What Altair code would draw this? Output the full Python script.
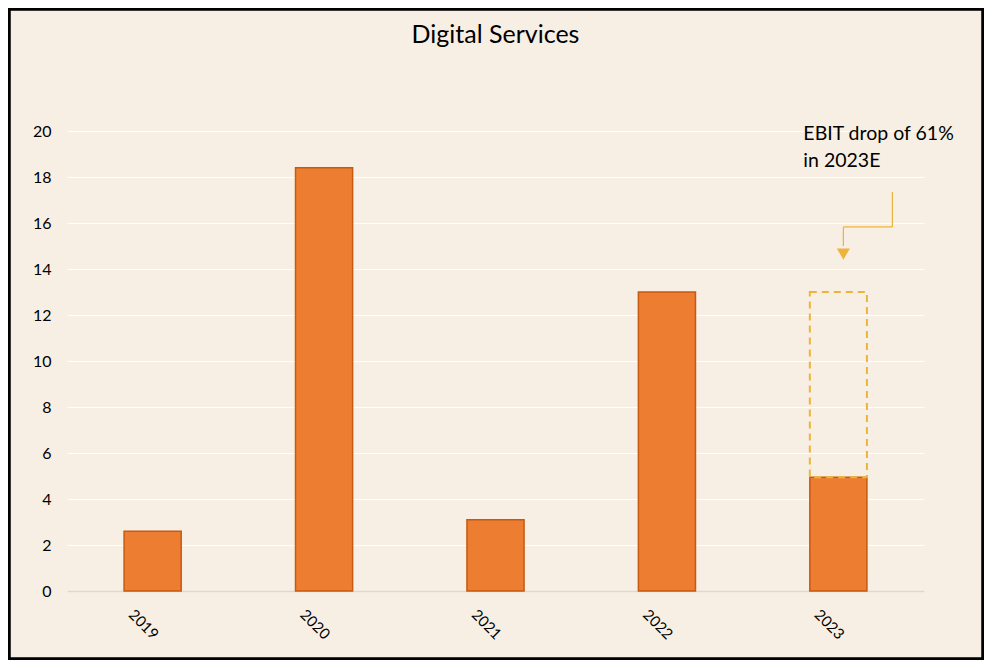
import altair as alt
import pandas as pd

title_text = "Digital Services"
years = ["2019", "2020", "2021", "2022", "2023"]
ebit = [2.6, 18.4, 3.1, 13.0, 4.95]
prior_level_2023 = [13.0]
annotation_text = ["EBIT drop of 61%", "in 2023E"]

BG = "#F7EFE3"
ORANGE = "#ED7D31"
ORANGE_EDGE = "#C55A11"
GOLD = "#EDB33A"
FONT = "Lato"

W, H = 857, 460
PAD = {"left": 59, "top": 123, "right": 60, "bottom": 69}

bars_df = pd.DataFrame({"year": years, "ebit": ebit})
dash_df = pd.DataFrame({"year": [years[-1]], "low": [ebit[-1]], "high": prior_level_2023})
text_df = pd.DataFrame({"year": [years[-1]], "y": [20.25], "label": ["\n".join(annotation_text)]})
title_df = pd.DataFrame({"t": [title_text]})
seg_v1 = pd.DataFrame({"year": [years[-1]], "y": [17.35], "y2": [15.83]})
seg_h = pd.DataFrame({"year": [years[-1]], "y": [15.83]})
seg_v2 = pd.DataFrame({"year": [years[-1]], "y": [15.83], "y2": [15.0]})
tip = pd.DataFrame({"year": [years[-1]], "y": [14.65]})

xscale = alt.Scale(domain=years, paddingInner=0.667, paddingOuter=0.333)
yscale = alt.Scale(domain=[0, 20])

x_enc = alt.X("year:N", scale=xscale, title=None,
              axis=alt.Axis(labelAngle=45, labelAlign="center", labelBaseline="middle",
                            labelPadding=33, labelOffset=-9, ticks=False,
                            domainColor="#D9D9D9", domainWidth=1.5,
                            labelFont=FONT, labelFontSize=15, labelColor="#000000"))
y_enc = alt.Y("ebit:Q", scale=yscale, title=None,
              axis=alt.Axis(values=list(range(0, 21, 2)), ticks=False, domain=False,
                            gridColor="#FFFFFF", gridWidth=1, labelPadding=16,
                            labelFont=FONT, labelFontSize=16, labelColor="#000000"))

bars = alt.Chart(bars_df).mark_bar(color=ORANGE, stroke=ORANGE_EDGE, strokeWidth=1.5).encode(
    x=x_enc, y=y_enc)

dash = alt.Chart(dash_df).mark_bar(fill=None, stroke=GOLD, strokeWidth=2, strokeDash=[7, 5]).encode(
    x=alt.X("year:N", scale=xscale),
    y=alt.Y("low:Q", scale=yscale),
    y2="high:Q")

txt = alt.Chart(text_df).mark_text(align="left", baseline="top", font=FONT, fontSize=19.5,
                                   lineBreak="\n", lineHeight=27, dx=-35, color="#000000").encode(
    x=alt.X("year:N", scale=xscale), y=alt.Y("y:Q", scale=yscale), text="label:N")

ttl = alt.Chart(title_df).mark_text(align="center", baseline="middle", font=FONT, fontSize=25,
                                    color="#000000").encode(
    x=alt.value(W / 2), y=alt.value(-96), text="t:N")

v1 = alt.Chart(seg_v1).mark_rule(color=GOLD, strokeWidth=1.2, xOffset=54).encode(
    x=alt.X("year:N", scale=xscale), y=alt.Y("y:Q", scale=yscale), y2="y2:Q")
h = alt.Chart(seg_h).mark_rule(color=GOLD, strokeWidth=1.2, xOffset=5, x2Offset=54).encode(
    x=alt.X("year:N", scale=xscale), x2="year:N", y=alt.Y("y:Q", scale=yscale))
v2 = alt.Chart(seg_v2).mark_rule(color=GOLD, strokeWidth=1.2, xOffset=5).encode(
    x=alt.X("year:N", scale=xscale), y=alt.Y("y:Q", scale=yscale), y2="y2:Q")
head = alt.Chart(tip).mark_point(shape="triangle-down", filled=True, color=GOLD, size=170,
                                 opacity=1, xOffset=5).encode(
    x=alt.X("year:N", scale=xscale), y=alt.Y("y:Q", scale=yscale))

frame = alt.Chart(bars_df).mark_rect(fill=None, stroke="#000000", strokeWidth=2.5).encode(
    x=alt.value(-PAD["left"] + 1), x2=alt.value(W + PAD["right"] - 1),
    y=alt.value(-PAD["top"] + 1), y2=alt.value(H + PAD["bottom"] - 1))

chart = alt.layer(bars, dash, txt, ttl, v1, h, v2, head, frame).properties(
    width=W, height=H,
    autosize=alt.AutoSizeParams(type="none"),
    padding=PAD,
    background=BG,
).configure_view(stroke=None, fill=BG)

chart.save("out.html", embed_options={"renderer": "svg", "actions": False})
